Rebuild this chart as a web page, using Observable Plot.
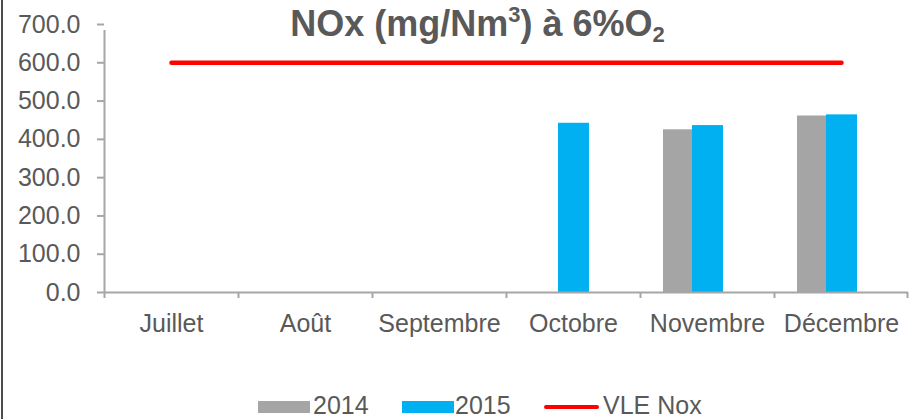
<!DOCTYPE html>
<html>
<head>
<meta charset="utf-8">
<script src="https://cdn.jsdelivr.net/npm/d3@7"></script>
<script src="https://cdn.jsdelivr.net/npm/@observablehq/plot@0.6"></script>
<style>
  html, body { margin: 0; padding: 0; background: #fff; }
  #wrap { position: relative; width: 911px; height: 419px; overflow: hidden; font-family: "Liberation Sans", Arial, sans-serif; color: #595959; }
  #border { position: absolute; left: 1px; top: 0; width: 2px; height: 419px; background: #4d4d4d; }
  #title { position: absolute; left: 0; top: 4px; width: 955px; text-align: center; font-weight: bold; font-size: 36px; line-height: 40px; color: #595959; white-space: nowrap; }
  #title sup { font-size: 22px; vertical-align: 14px; line-height: 0; }
  #title sub { font-size: 22px; vertical-align: -6px; line-height: 0; }
  #chart { position: absolute; left: 0; top: 0; }
  #legend { position: absolute; left: 0; top: 391px; width: 911px; height: 28px; font-size: 25px; }
  .item { position: absolute; top: 0; height: 28px; line-height: 28px; white-space: nowrap; }
  .sw { position: absolute; }
</style>
</head>
<body>
<div id="wrap">
  <div id="chart"></div>
  <div id="title">NOx (mg/Nm<sup>3</sup>) à 6%O<sub>2</sub></div>
  <div id="border"></div>
  <div id="legend"></div>
</div>
<script>
const months = ["Juillet", "Août", "Septembre", "Octobre", "Novembre", "Décembre"];
const values2014 = [null, null, null, null, 425, 461];
const values2015 = [null, null, null, 442, 436, 464];
const vleNox = [600, 600, 600, 600, 600, 600];
const yTicks = [0, 100, 200, 300, 400, 500, 600, 700];
const seriesNames = ["2014", "2015", "VLE Nox"];
const colors = { "2014": "#a5a5a5", "2015": "#00b0f0", "VLE Nox": "#ff0000" };

const rows2014 = months.map((m, i) => ({ month: m, value: values2014[i] })).filter(d => d.value != null);
const rows2015 = months.map((m, i) => ({ month: m, value: values2015[i] })).filter(d => d.value != null);
const rowsVle = months.map((m, i) => ({ month: m, value: vleNox[i] }));

const W = 911, H = 380, ML = 104, MR = 3, MT = 24, MB = 88;
const bw = (W - ML - MR) / months.length;
const axisGray = "#a6a6a6";
const firstMonth = () => months[0];

const chart = Plot.plot({
  width: W,
  height: H,
  marginLeft: ML,
  marginRight: MR,
  marginTop: MT,
  marginBottom: MB,
  style: { fontFamily: "Liberation Sans, Arial, sans-serif", color: "#595959", background: "transparent" },
  x: { type: "band", domain: months, padding: 0, axis: null },
  y: { domain: [0, 700], axis: null },
  marks: [
    Plot.barY(rows2014, { x: "month", y: "value", fill: colors["2014"], insetLeft: 23, insetRight: 82 }),
    Plot.barY(rows2015, { x: "month", y: "value", fill: colors["2015"], insetLeft: 52, insetRight: 51 }),
    Plot.ruleY([0], { stroke: axisGray, strokeWidth: 2 }),
    Plot.ruleX([months[0]], { x: d => d, y1: 0, y2: 700, dx: -bw / 2, stroke: axisGray, strokeWidth: 2, insetBottom: -6 }),
    Plot.ruleX(months, { x: d => d, y1: 0, y2: 0, dx: -bw / 2, stroke: axisGray, strokeWidth: 2, insetBottom: -6 }),
    Plot.ruleX([months[months.length - 1]], { x: d => d, y1: 0, y2: 0, dx: bw / 2 - 1, stroke: axisGray, strokeWidth: 2, insetBottom: -6 }),
    Plot.tickY(yTicks, { y: d => d, x: firstMonth, dx: -bw / 2 - 3.5, stroke: axisGray, strokeWidth: 2, insetLeft: (bw - 7) / 2, insetRight: (bw - 7) / 2 }),
    Plot.text(yTicks, { y: d => d, x: firstMonth, text: d => d.toFixed(1), dx: -bw / 2 - 24, textAnchor: "end", fontSize: 25, fill: "#595959" }),
    Plot.text(months, { x: d => d, y: 0, text: d => d, dy: 31, fontSize: 25, fill: "#595959" }),
    Plot.lineY(rowsVle, { x: "month", y: "value", stroke: colors["VLE Nox"], strokeWidth: 4.5, strokeLinecap: "round" })
  ]
});
document.getElementById("chart").appendChild(chart);

// legend
const legend = document.getElementById("legend");
const items = [
  { name: seriesNames[0], kind: "rect", sx: 258, tx: 313 },
  { name: seriesNames[1], kind: "rect", sx: 402, tx: 455 },
  { name: seriesNames[2], kind: "line", sx: 544, tx: 603 }
];
for (const it of items) {
  const sw = document.createElement("div");
  sw.className = "sw";
  if (it.kind === "rect") {
    Object.assign(sw.style, { left: it.sx + "px", top: "10px", width: "52px", height: "12px", background: colors[it.name] });
  } else {
    Object.assign(sw.style, { left: it.sx + "px", top: "14px", width: "55px", height: "4px", background: colors[it.name], borderRadius: "2px" });
  }
  legend.appendChild(sw);
  const t = document.createElement("div");
  t.className = "item";
  t.style.left = it.tx + "px";
  t.textContent = it.name;
  legend.appendChild(t);
}
</script>
</body>
</html>
